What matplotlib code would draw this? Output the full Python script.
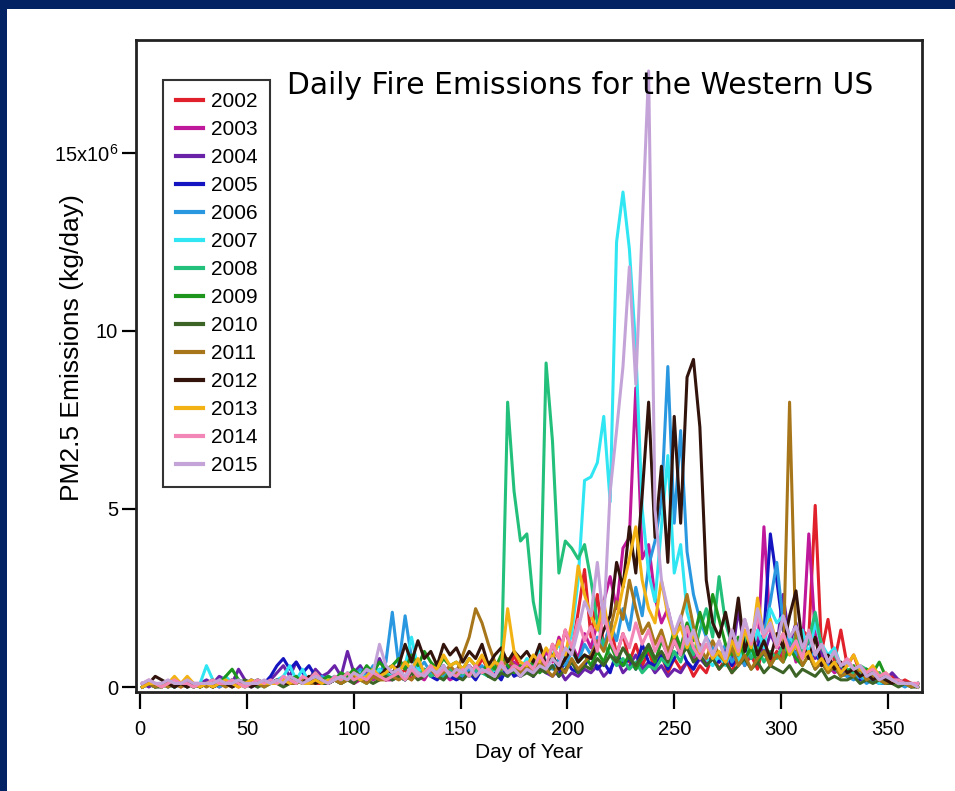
import numpy as np
import matplotlib.pyplot as plt
from matplotlib.patches import Rectangle

# PM2.5 fire emissions, western US, in 10^6 kg/day, sampled every 3rd day of year
days = np.arange(1, 366, 3)
years = [2002, 2003, 2004, 2005, 2006, 2007, 2008, 2009, 2010, 2011, 2012, 2013, 2014, 2015]
colors = ['#e0202a', '#c0189a', '#6a22a8', '#1414c0', '#2a98e0', '#30e6f2', '#22c07a',
          '#1e961e', '#3c6426', '#a8761a', '#32140c', '#f2b214', '#f286b6', '#c4a4d8']

pm_2002 = [0.0,0.1,0.1,0.0,0.1,0.1,0.0,0.1,0.0,0.1, 0.1,0.0,0.1,0.2,0.1,0.0,0.1,0.1,0.0,0.1,
           0.1,0.2,0.1,0.1,0.3,0.1,0.2,0.1,0.1,0.2, 0.2,0.1,0.3,0.2,0.4,0.2,0.3,0.5,0.2,0.4,
           0.3,0.5,0.2,0.6,0.3,0.4,0.7,0.3,0.5,0.4, 0.3,0.6,0.4,0.8,0.5,0.3,0.7,0.4,0.9,0.5,
           0.6,0.4,0.9,0.5,1.2,0.8,1.6,1.0,2.1,3.3, 1.4,2.6,1.1,1.8,0.9,1.5,0.7,1.2,0.6,1.0,
           0.5,0.9,0.4,0.8,0.5,0.7,0.3,0.6,0.4,0.9, 0.5,0.8,0.4,1.0,0.6,0.9,0.5,1.2,0.7,1.0,
           0.8,1.3,0.9,1.6,1.4,5.1,1.0,1.9,0.7,1.6, 0.6,0.9,0.4,0.5,0.3,0.4,0.2,0.3,0.1,0.2,
           0.1,0.1]
pm_2003 = [0.0,0.1,0.0,0.1,0.1,0.0,0.1,0.0,0.1,0.1, 0.1,0.1,0.0,0.1,0.2,0.1,0.1,0.0,0.1,0.1,
           0.1,0.1,0.2,0.1,0.1,0.2,0.1,0.1,0.2,0.1, 0.2,0.1,0.3,0.1,0.2,0.4,0.2,0.3,0.2,0.2,
           0.3,0.2,0.4,0.3,0.2,0.5,0.3,0.4,0.2,0.3, 0.4,0.3,0.5,0.4,0.6,0.3,0.5,0.4,0.7,0.5,
           0.6,0.8,0.5,1.0,0.7,1.4,0.9,1.2,0.8,1.5, 1.1,1.8,2.4,3.1,2.2,3.9,4.2,8.4,3.6,4.0,
           2.5,1.8,2.2,1.4,1.0,1.6,0.8,1.2,0.6,0.9, 0.7,1.0,0.6,1.3,0.8,1.1,0.9,4.5,1.6,1.2,
           0.9,1.4,0.7,1.1,4.3,1.5,0.8,0.6,0.4,0.5, 0.3,0.4,0.2,0.3,0.2,0.2,0.1,0.2,0.1,0.1,
           0.1,0.0]
pm_2004 = [0.1,0.0,0.1,0.1,0.0,0.1,0.1,0.2,0.1,0.1, 0.2,0.1,0.3,0.2,0.1,0.5,0.2,0.1,0.2,0.1,
           0.2,0.4,0.6,0.3,0.7,0.4,0.2,0.5,0.3,0.4, 0.6,0.3,1.0,0.4,0.6,0.3,0.5,0.8,0.4,0.6,
           0.5,0.7,0.4,0.6,0.3,0.5,0.4,0.6,0.3,0.5, 0.4,0.6,0.3,0.5,0.4,0.7,0.3,0.5,0.4,0.3,
           0.5,0.3,0.6,0.4,0.3,0.5,0.2,0.4,0.3,0.5, 0.4,0.6,0.3,0.5,0.8,0.4,0.6,0.9,0.5,0.7,
           0.4,0.6,0.3,0.5,0.4,0.7,0.5,0.8,0.6,0.9, 0.7,1.1,0.8,2.2,1.0,1.4,1.3,0.9,1.5,1.1,
           2.6,1.2,1.8,0.9,1.3,0.8,1.0,0.6,0.7,0.5, 0.4,0.5,0.3,0.4,0.2,0.3,0.2,0.4,0.2,0.1,
           0.1,0.0]
pm_2005 = [0.0,0.1,0.1,0.0,0.1,0.0,0.1,0.1,0.0,0.1, 0.1,0.0,0.1,0.1,0.2,0.1,0.1,0.2,0.1,0.1,
           0.3,0.6,0.8,0.5,0.7,0.4,0.6,0.3,0.2,0.3, 0.2,0.3,0.2,0.4,0.3,0.2,0.5,0.3,0.2,0.4,
           0.3,0.2,0.4,0.3,0.5,0.3,0.2,0.4,0.3,0.2, 0.3,0.4,0.2,0.5,0.3,0.4,0.2,0.6,0.3,0.4,
           0.5,0.3,0.7,0.4,0.6,0.3,0.8,0.5,0.4,0.6, 0.9,0.5,0.7,0.4,1.0,0.6,0.8,0.5,1.2,0.7,
           0.6,0.9,0.5,0.8,1.1,0.7,0.5,0.9,0.6,0.8, 0.7,1.0,0.6,0.9,1.2,0.8,1.1,1.5,4.3,3.0,
           1.6,1.2,0.9,1.3,0.8,1.0,0.6,0.7,0.5,0.4, 0.3,0.4,0.2,0.3,0.2,0.1,0.2,0.1,0.1,0.1,
           0.0,0.1]
pm_2006 = [0.0,0.1,0.0,0.1,0.1,0.0,0.1,0.0,0.1,0.0, 0.1,0.1,0.0,0.1,0.1,0.2,0.1,0.0,0.1,0.1,
           0.1,0.2,0.1,0.3,0.2,0.1,0.2,0.1,0.3,0.2, 0.3,0.2,0.4,0.3,0.5,0.3,0.6,0.4,0.7,2.1,
           0.6,2.0,0.8,0.5,0.7,0.4,0.6,0.3,0.5,0.4, 0.3,0.5,0.4,0.6,0.3,0.5,0.4,0.3,0.5,0.4,
           0.6,0.4,0.5,0.7,0.5,0.8,0.6,1.0,0.7,1.2, 0.9,1.4,1.1,1.8,1.3,2.2,1.6,2.8,2.0,3.4,
           4.1,5.2,9.0,4.6,7.2,3.8,2.6,1.9,1.4,1.1, 0.8,1.2,0.7,1.0,0.6,1.3,0.9,1.5,2.4,3.5,
           1.8,1.2,0.9,1.4,0.8,1.0,0.7,0.6,0.5,0.4, 0.3,0.2,0.3,0.1,0.2,0.1,0.1,0.2,0.1,0.0,
           0.1,0.0]
pm_2007 = [0.0,0.1,0.1,0.0,0.1,0.0,0.1,0.1,0.0,0.1, 0.6,0.2,0.1,0.3,0.1,0.2,0.1,0.1,0.0,0.1,
           0.1,0.2,0.3,0.6,0.2,0.5,0.1,0.2,0.1,0.3, 0.2,0.1,0.3,0.2,0.4,0.2,0.3,0.5,0.3,0.4,
           0.5,0.6,1.4,0.5,0.4,0.6,0.3,0.5,0.4,0.3, 0.5,0.3,0.6,0.4,0.3,0.5,0.7,0.4,0.6,0.5,
           0.8,0.6,1.1,0.7,0.9,1.2,0.8,1.5,3.0,5.8, 5.9,6.3,7.6,5.2,12.5,13.9,12.3,9.5,5.0,3.2,
           2.4,4.5,6.5,3.2,4.0,2.1,1.5,1.0,0.8,0.6, 0.9,0.6,1.1,0.7,1.3,0.9,1.6,1.1,2.2,1.8,
           2.0,1.4,1.1,1.6,0.9,1.8,1.2,0.9,1.1,0.6, 0.5,0.3,0.4,0.2,0.3,0.1,0.2,0.1,0.1,0.1,
           0.0,0.1]
pm_2008 = [0.0,0.1,0.0,0.1,0.0,0.1,0.1,0.0,0.1,0.0, 0.1,0.0,0.1,0.1,0.2,0.1,0.0,0.1,0.1,0.0,
           0.1,0.1,0.2,0.1,0.1,0.2,0.1,0.2,0.1,0.1, 0.2,0.1,0.2,0.3,0.2,0.1,0.3,0.2,0.4,0.2,
           0.3,0.2,0.4,0.3,0.5,0.3,0.4,0.2,0.5,0.3, 0.4,0.3,0.5,0.4,0.3,0.6,0.4,8.0,5.5,4.1,
           4.3,2.4,1.5,9.1,6.9,3.2,4.1,3.9,3.6,4.0, 3.0,1.8,1.2,0.9,0.6,0.8,0.5,0.7,0.4,0.6,
           0.5,0.8,0.6,1.0,0.7,1.3,0.9,1.6,2.2,1.4, 3.1,1.8,1.2,0.9,1.4,0.8,1.1,0.7,1.0,0.8,
           1.2,0.9,1.5,1.0,1.3,2.1,1.1,0.8,0.9,0.6, 0.5,0.4,0.6,0.5,0.3,0.4,0.2,0.2,0.1,0.1,
           0.1,0.0]
pm_2009 = [0.0,0.1,0.0,0.1,0.1,0.0,0.1,0.1,0.0,0.1, 0.1,0.2,0.1,0.3,0.5,0.2,0.1,0.1,0.2,0.1,
           0.1,0.2,0.1,0.2,0.3,0.1,0.2,0.4,0.2,0.3, 0.2,0.4,0.3,0.5,0.3,0.6,0.4,0.7,0.5,0.6,
           0.8,0.5,0.9,0.6,1.0,0.7,0.5,0.8,0.6,0.7, 0.5,0.8,0.6,0.4,0.7,0.5,0.9,0.6,0.4,0.6,
           0.5,0.7,0.4,0.6,0.9,0.5,0.8,1.1,0.7,0.9, 0.6,1.0,0.7,1.2,0.8,0.6,0.9,0.5,0.8,1.1,
           0.7,1.3,0.9,1.6,1.1,1.8,1.3,2.1,1.5,2.6, 1.9,1.2,0.9,1.4,0.8,1.1,0.7,1.0,0.6,0.9,
           0.7,1.1,0.8,0.6,0.9,0.5,0.7,0.4,0.6,0.3, 0.4,0.6,0.3,0.5,0.4,0.7,0.3,0.2,0.1,0.1,
           0.1,0.0]
pm_2010 = [0.0,0.1,0.0,0.0,0.1,0.0,0.1,0.0,0.1,0.0, 0.1,0.0,0.1,0.1,0.0,0.1,0.2,0.1,0.0,0.1,
           0.1,0.1,0.0,0.1,0.2,0.1,0.1,0.2,0.1,0.1, 0.2,0.1,0.2,0.1,0.3,0.2,0.1,0.2,0.3,0.2,
           0.3,0.2,0.4,0.2,0.3,0.5,0.3,0.2,0.4,0.3, 0.2,0.4,0.3,0.5,0.3,0.2,0.4,0.3,0.5,0.3,
           0.4,0.3,0.5,0.4,0.6,0.3,0.5,0.7,0.4,0.6, 0.5,0.8,0.6,0.9,0.7,1.1,0.8,0.6,0.9,1.2,
           0.8,1.0,0.7,1.3,0.9,1.1,0.7,0.9,0.6,0.8, 0.5,0.7,0.4,0.6,0.8,0.5,0.7,0.4,0.6,0.5,
           0.4,0.6,0.3,0.5,0.4,0.3,0.5,0.2,0.3,0.2, 0.2,0.3,0.1,0.2,0.1,0.2,0.1,0.1,0.0,0.1,
           0.0,0.0]
pm_2011 = [0.0,0.1,0.0,0.1,0.0,0.1,0.0,0.1,0.0,0.1, 0.0,0.1,0.1,0.0,0.1,0.1,0.0,0.1,0.1,0.0,
           0.1,0.1,0.2,0.1,0.1,0.2,0.1,0.1,0.2,0.1, 0.2,0.1,0.2,0.3,0.2,0.1,0.3,0.2,0.2,0.3,
           0.2,0.3,0.2,0.4,0.3,0.5,0.3,0.4,0.6,0.4, 0.9,1.4,2.2,1.8,1.2,0.7,0.5,0.8,0.6,0.4,
           0.6,0.4,0.7,0.5,0.3,0.6,0.4,0.8,0.5,0.7, 0.9,1.3,1.0,1.6,2.4,1.9,3.0,2.2,1.5,1.8,
           1.2,1.6,1.0,1.4,1.9,2.6,1.7,1.1,0.8,1.3, 0.9,0.7,1.1,0.6,0.9,0.5,0.8,1.0,0.6,0.9,
           0.7,8.0,1.2,0.6,0.9,0.5,0.7,0.4,0.6,0.3, 0.4,0.3,0.5,0.2,0.3,0.2,0.1,0.2,0.1,0.1,
           0.0,0.1]
pm_2012 = [0.1,0.1,0.3,0.2,0.1,0.0,0.1,0.0,0.1,0.0, 0.1,0.0,0.1,0.1,0.0,0.1,0.1,0.0,0.1,0.1,
           0.1,0.2,0.1,0.1,0.2,0.1,0.3,0.1,0.2,0.1, 0.2,0.3,0.2,0.4,0.3,0.2,0.4,0.3,0.5,0.4,
           0.6,1.2,0.7,1.3,0.8,1.0,0.6,1.2,0.9,1.1, 0.7,1.0,0.8,1.2,0.6,0.9,1.1,0.7,1.0,0.8,
           1.0,0.7,1.2,0.6,0.9,0.5,0.8,1.1,0.7,0.9, 0.8,1.2,1.6,2.0,3.5,2.8,4.5,3.2,5.4,8.0,
           4.2,6.2,3.5,7.6,4.6,8.7,9.2,7.3,3.0,1.8, 1.4,2.1,1.2,2.5,1.0,1.6,0.9,1.3,0.8,1.5,
           1.1,2.0,2.7,1.2,0.8,1.4,0.6,0.9,0.5,0.7, 0.4,0.5,0.3,0.4,0.2,0.3,0.2,0.1,0.2,0.1,
           0.1,0.0]
pm_2013 = [0.0,0.1,0.1,0.0,0.1,0.3,0.1,0.3,0.1,0.0, 0.1,0.0,0.1,0.2,0.1,0.0,0.1,0.2,0.1,0.1,
           0.1,0.1,0.2,0.1,0.2,0.1,0.1,0.2,0.1,0.2, 0.2,0.3,0.2,0.4,0.2,0.3,0.5,0.3,0.4,0.6,
           0.4,0.7,0.5,0.8,0.4,0.6,0.5,0.9,0.6,0.7, 0.5,0.8,0.6,0.9,0.5,0.7,0.6,2.2,1.0,0.7,
           0.6,0.9,0.7,1.1,0.8,1.3,0.9,1.8,3.4,2.6, 2.0,1.6,2.4,1.3,1.9,2.8,3.6,4.5,3.0,2.2,
           1.8,3.0,2.0,1.4,1.7,1.1,1.5,0.9,1.2,0.8, 1.0,0.7,1.3,0.9,1.6,1.1,2.5,1.4,1.9,1.2,
           1.5,0.9,1.2,0.8,1.0,0.6,0.8,0.5,0.7,0.4, 0.6,0.9,0.5,0.4,0.6,0.3,0.4,0.2,0.1,0.1,
           0.1,0.0]
pm_2014 = [0.1,0.2,0.1,0.0,0.1,0.2,0.1,0.1,0.0,0.1, 0.1,0.2,0.1,0.1,0.2,0.1,0.0,0.1,0.2,0.1,
           0.2,0.1,0.3,0.2,0.1,0.3,0.2,0.4,0.2,0.1, 0.3,0.2,0.4,0.2,0.3,0.2,0.4,0.3,0.2,0.3,
           0.4,0.2,0.5,0.3,0.4,0.6,0.3,0.5,0.4,0.3, 0.5,0.3,0.6,0.4,0.5,0.3,0.7,0.4,0.6,0.5,
           0.7,0.5,0.9,0.6,1.2,0.8,1.6,1.1,1.9,1.3, 1.7,1.0,2.1,1.3,0.9,1.5,1.1,1.8,1.2,1.6,
           1.0,1.4,0.8,1.3,0.9,1.7,1.1,0.8,1.2,0.9, 1.3,0.8,1.6,1.0,1.9,1.2,2.0,1.4,1.7,1.1,
           1.5,1.0,1.3,0.8,1.6,0.9,1.2,0.7,1.0,0.6, 0.8,0.5,0.6,0.4,0.5,0.3,0.4,0.2,0.2,0.1,
           0.1,0.1]
pm_2015 = [0.1,0.2,0.1,0.1,0.2,0.1,0.1,0.2,0.1,0.1, 0.1,0.1,0.2,0.1,0.1,0.2,0.1,0.1,0.1,0.2,
           0.1,0.2,0.1,0.3,0.2,0.1,0.2,0.3,0.2,0.1, 0.2,0.3,0.2,0.4,0.3,0.5,0.4,1.2,0.6,0.4,
           0.5,0.3,0.6,0.4,0.3,0.5,0.4,0.6,0.3,0.5, 0.4,0.6,0.3,0.5,0.4,0.3,0.6,0.4,0.5,0.3,
           0.5,0.4,0.6,0.5,0.8,0.6,1.1,0.9,1.6,2.4, 2.0,3.5,1.8,5.5,7.2,9.0,11.8,8.5,12.9,17.3,
           5.0,3.0,2.2,1.5,2.0,1.2,1.6,1.0,1.4,0.9, 1.3,0.8,1.6,1.1,1.9,1.3,2.2,1.5,1.8,1.2,
           2.0,1.4,1.7,1.1,1.5,0.9,1.2,0.7,1.0,0.6, 0.7,0.5,0.6,0.3,0.4,0.2,0.3,0.2,0.1,0.1,
           0.1,0.0]

series = [pm_2002, pm_2003, pm_2004, pm_2005, pm_2006, pm_2007, pm_2008,
          pm_2009, pm_2010, pm_2011, pm_2012, pm_2013, pm_2014, pm_2015]

xticks = [0, 50, 100, 150, 200, 250, 300, 350]
yticks = [0, 5e6, 10e6, 15e6]
ytick_labels = ['0', '5', '10', r'15x10$^6$']

plt.rcParams['font.family'] = ['Liberation Sans', 'DejaVu Sans']
plt.rcParams['mathtext.fontset'] = 'custom'
plt.rcParams['mathtext.rm'] = 'Liberation Sans'

W, H = 955, 791
fig = plt.figure(figsize=(W / 100, H / 100), dpi=100, facecolor='#032264')
fig.patches.append(Rectangle((7 / W, 0), 1, 1 - 9 / H, transform=fig.transFigure,
                             facecolor='white', edgecolor='none', zorder=-10))

ax = fig.add_axes([136 / W, 1 - 692 / H, 786 / W, 652 / H])
ax.set_zorder(2)
for yr, vals, c in zip(years, series, colors):
    ax.plot(days, np.array(vals) * 1e6, color=c, linewidth=2.2, label=str(yr))

ax.set_xlim(-2, 366)
ax.set_ylim(-0.14e6, 18.17e6)
ax.set_xticks(xticks)
ax.set_yticks(yticks, labels=ytick_labels)
ax.tick_params(axis='x', direction='out', length=12, width=1.6, pad=8, labelsize=14.5)
ax.tick_params(axis='y', direction='out', length=10, width=1.6, pad=3, labelsize=14.5)
for s in ax.spines.values():
    s.set_linewidth(2.0)
    s.set_color('#222222')

leg = ax.legend(loc='upper left', bbox_to_anchor=(0.0344, 0.9387), borderaxespad=0,
                fontsize=15, frameon=True, fancybox=False, edgecolor='black',
                handlelength=1.3, handletextpad=0.4, labelspacing=0.43,
                borderpad=0.6)
leg.get_frame().set_linewidth(1.5)
for ln in leg.get_lines():
    ln.set_linewidth(3)

fig.text(72 / W, 1 - 348 / H, 'PM2.5 Emissions (kg/day)', rotation=90,
         ha='center', va='center', fontsize=19)
fig.text(529 / W, 1 - 753 / H, 'Day of Year', ha='center', va='center', fontsize=15)
fig.text(287 / W, 1 - 85 / H, 'Daily Fire Emissions for the Western US',
         ha='left', va='center', fontsize=21.4, family='DejaVu Sans')

fig.savefig('out.png', dpi=100, facecolor=fig.get_facecolor())
